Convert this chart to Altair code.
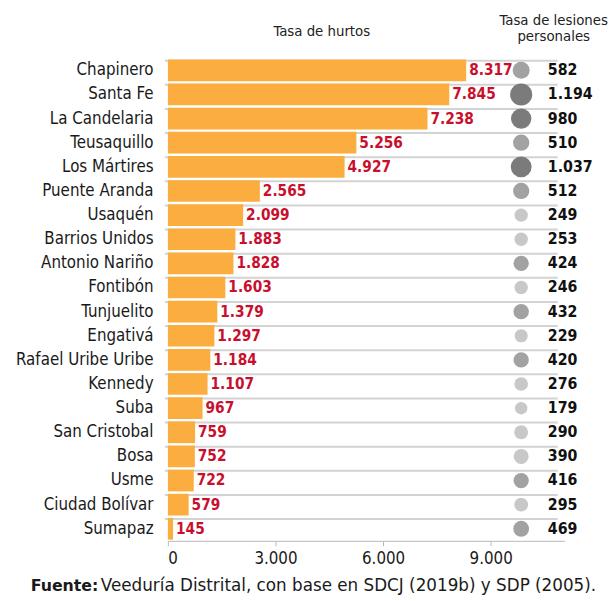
import altair as alt
import pandas as pd

localidades = ["Chapinero", "Santa Fe", "La Candelaria", "Teusaquillo", "Los Mártires",
               "Puente Aranda", "Usaquén", "Barrios Unidos", "Antonio Nariño", "Fontibón",
               "Tunjuelito", "Engativá", "Rafael Uribe Uribe", "Kennedy", "Suba",
               "San Cristobal", "Bosa", "Usme", "Ciudad Bolívar", "Sumapaz"]
hurtos = [8317, 7845, 7238, 5256, 4927, 2565, 2099, 1883, 1828, 1603,
          1379, 1297, 1184, 1107, 967, 759, 752, 722, 579, 145]
lesiones = [582, 1194, 980, 510, 1037, 512, 249, 253, 424, 246,
            432, 229, 420, 276, 179, 290, 390, 416, 295, 469]
x_ticks = [0, 3000, 6000, 9000]
titulo_hurtos = "Tasa de hurtos"
titulo_lesiones = ["Tasa de lesiones", "personales"]
fuente_bold = "Fuente:"
fuente_texto = "Veeduría Distrital, con base en SDCJ (2019b) y SDP (2005)."


def fmt(v):
    return f"{v:,}".replace(",", ".")


df = pd.DataFrame({
    "loc": localidades,
    "hurtos": hurtos,
    "lesiones": lesiones,
    "h_lbl": [fmt(v) for v in hurtos],
    "l_lbl": [fmt(v) for v in lesiones],
})

NARROW = "DejaVu Sans Condensed, Liberation Sans Narrow, Arial Narrow, sans-serif"
REG = "DejaVu Sans, Liberation Sans, Arial, sans-serif"

yscale = alt.Scale(paddingInner=0.1, paddingOuter=0.05)
y_enc = alt.Y("loc:N", sort=localidades, scale=yscale,
              axis=alt.Axis(title=None, labelFont=NARROW, labelFontSize=17,
                            labelColor="#1a1a1a", ticks=False, domain=False,
                            labelPadding=15))
x_enc = alt.X("hurtos:Q", scale=alt.Scale(domain=[0, 11060], nice=False),
              axis=alt.Axis(values=x_ticks, title=None, grid=False,
                            labelExpr="replace(format(datum.value, ','), ',', '.')",
                            labelFont=NARROW, labelFontSize=17, labelColor="#1a1a1a",
                            domainColor="#b8b8b8", tickColor="#b8b8b8", tickSize=5,
                            labelPadding=5))

base = alt.Chart(df)

seps = base.mark_rule(color="#d3d3d3", strokeWidth=2).encode(
    y=alt.Y("loc:N", sort=localidades, bandPosition=1),
    yOffset=alt.value(1.2),
    x=alt.value(-3), x2=alt.value(395),
)

bars = base.mark_bar(color="#FBAE3F").encode(x=x_enc, y=y_enc)

bar_lbl = base.mark_text(align="left", dx=3, font=NARROW, fontSize=15.5,
                         fontWeight="bold", color="#C8102E").encode(
    x="hurtos:Q", y=alt.Y("loc:N", sort=localidades), text="h_lbl:N")

circles = base.mark_circle(opacity=1).encode(
    x=alt.datum(9850),
    y=alt.Y("loc:N", sort=localidades),
    size=alt.Size("lesiones:Q", scale=alt.Scale(domain=[179, 1194], range=[160, 500]),
                  legend=None),
    color=alt.Color("lesiones:Q",
                    scale=alt.Scale(type="threshold", domain=[400, 900],
                                    range=["#c8c8c8", "#a2a2a2", "#7b7b7b"]),
                    legend=None),
)

les_lbl = base.mark_text(align="left", font=NARROW, fontSize=16, fontWeight="bold",
                         color="#111111").encode(
    x=alt.datum(10593), y=alt.Y("loc:N", sort=localidades), text="l_lbl:N")

one = pd.DataFrame({"k": [0]})
t_hurtos = alt.Chart(one).mark_text(text=titulo_hurtos, font=NARROW, fontSize=15,
                                    color="#222222", align="center", baseline="middle").encode(
    x=alt.value(156), y=alt.value(-28))
t_les = alt.Chart(one).mark_text(text=titulo_lesiones, font=NARROW, fontSize=15,
                                 lineHeight=16, color="#222222", align="center",
                                 baseline="top").encode(
    x=alt.value(391), y=alt.value(-46))
f_bold = alt.Chart(one).mark_text(text=fuente_bold, font=REG, fontSize=16,
                                  fontWeight="bold", color="#1a1a1a", align="left",
                                  baseline="middle").encode(
    x=alt.value(-139), y=alt.value(535))
f_txt = alt.Chart(one).mark_text(text=fuente_texto, font=REG, fontSize=17,
                                 color="#1a1a1a", align="left",
                                 baseline="middle").encode(
    x=alt.value(-68), y=alt.value(535))

chart = alt.layer(seps, bars, bar_lbl, circles, les_lbl, t_hurtos, t_les, f_bold, f_txt).properties(
    width=402, height=489,
    autosize=alt.AutoSizeParams(type="none"),
    padding={"left": 162, "top": 47, "right": 44, "bottom": 57},
).configure_view(stroke=None)

chart.save("out.html", embed_options={"renderer": "svg", "actions": False})
